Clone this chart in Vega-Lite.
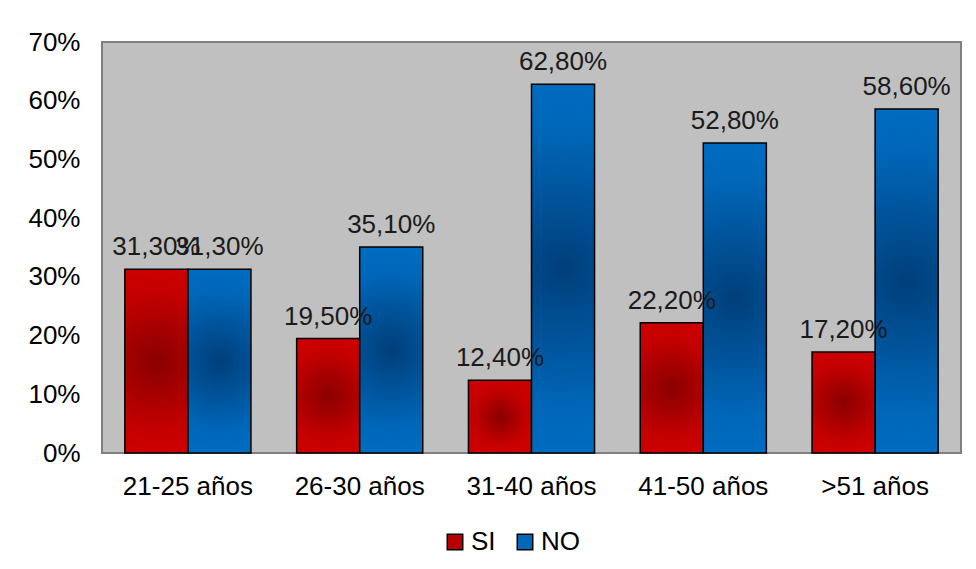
{
  "$schema": "https://vega.github.io/schema/vega-lite/v6.json",
  "width": 859,
  "height": 411,
  "autosize": {"type": "none"},
  "padding": {"left": 102, "top": 42, "right": 15, "bottom": 116},
  "background": "white",
  "config": {
    "locale": {"number": {"decimal": ",", "thousands": ".", "grouping": [3], "currency": ["", " €"]}},
    "font": "Liberation Sans",
    "view": {"fill": "#c0c0c0", "stroke": "#7f7f7f", "strokeWidth": 2},
    "axis": {"labelFont": "Liberation Sans", "labelColor": "#000000", "labelFontSize": 26, "grid": false, "ticks": false, "domain": false, "title": null}
  },
  "data": {
    "values": [
      {"edad": "21-25 años", "serie": "SI", "valor": 0.313},
      {"edad": "21-25 años", "serie": "NO", "valor": 0.313},
      {"edad": "26-30 años", "serie": "SI", "valor": 0.195},
      {"edad": "26-30 años", "serie": "NO", "valor": 0.351},
      {"edad": "31-40 años", "serie": "SI", "valor": 0.124},
      {"edad": "31-40 años", "serie": "NO", "valor": 0.628},
      {"edad": "41-50 años", "serie": "SI", "valor": 0.222},
      {"edad": "41-50 años", "serie": "NO", "valor": 0.528},
      {"edad": ">51 años", "serie": "SI", "valor": 0.172},
      {"edad": ">51 años", "serie": "NO", "valor": 0.586}
    ]
  },
  "encoding": {
    "x": {
      "field": "edad", "type": "nominal",
      "sort": ["21-25 años", "26-30 años", "31-40 años", "41-50 años", ">51 años"],
      "scale": {"paddingInner": 0.266, "paddingOuter": 0.133},
      "axis": {"labelAngle": 0, "labelPadding": 20}
    },
    "xOffset": {"field": "serie", "type": "nominal", "sort": ["SI", "NO"], "scale": {"domain": ["SI", "NO"]}},
    "y": {
      "field": "valor", "type": "quantitative",
      "scale": {"domain": [0, 0.7], "nice": false},
      "axis": {"format": ".0%", "values": [0, 0.1, 0.2, 0.3, 0.4, 0.5, 0.6, 0.7], "labelPadding": 22}
    }
  },
  "layer": [
    {
      "mark": {"type": "bar"},
      "encoding": {
        "color": {
          "field": "serie", "type": "nominal",
          "scale": {"domain": ["SI", "NO"], "range": ["#b80000", "#0068b8"]},
          "legend": {
            "title": null, "orient": "none", "direction": "horizontal",
            "legendX": 340, "legendY": 487,
            "symbolType": "square", "symbolSize": 240,
            "symbolStrokeColor": "#000000", "symbolStrokeWidth": 1.5, "symbolOpacity": 1,
            "labelFont": "Liberation Sans", "labelFontSize": 26, "labelColor": "#000000",
            "labelOffset": 3, "columnPadding": 16
          }
        }
      }
    },
    {
      "transform": [{"filter": "datum.serie === 'SI'"}],
      "mark": {
        "type": "bar", "stroke": "#000000", "strokeWidth": 1.5,
        "fill": {"gradient": "radial", "x1": 0.5, "y1": 0.5, "r1": 0, "x2": 0.5, "y2": 0.5, "r2": 0.5,
          "stops": [{"offset": 0, "color": "#8a0000"}, {"offset": 0.75, "color": "#c40000"}, {"offset": 1, "color": "#cc0000"}]}
      }
    },
    {
      "transform": [{"filter": "datum.serie === 'NO'"}],
      "mark": {
        "type": "bar", "stroke": "#000000", "strokeWidth": 1.5,
        "fill": {"gradient": "radial", "x1": 0.5, "y1": 0.5, "r1": 0, "x2": 0.5, "y2": 0.5, "r2": 0.5,
          "stops": [{"offset": 0, "color": "#003f7a"}, {"offset": 0.75, "color": "#0066b8"}, {"offset": 1, "color": "#006cc0"}]}
      }
    },
    {
      "mark": {"type": "text", "dy": -14, "baseline": "alphabetic", "align": "center", "fontSize": 26, "font": "Liberation Sans", "color": "#1a1a1a"},
      "encoding": {
        "text": {"field": "valor", "type": "quantitative", "format": ".2%"}
      }
    }
  ]
}
